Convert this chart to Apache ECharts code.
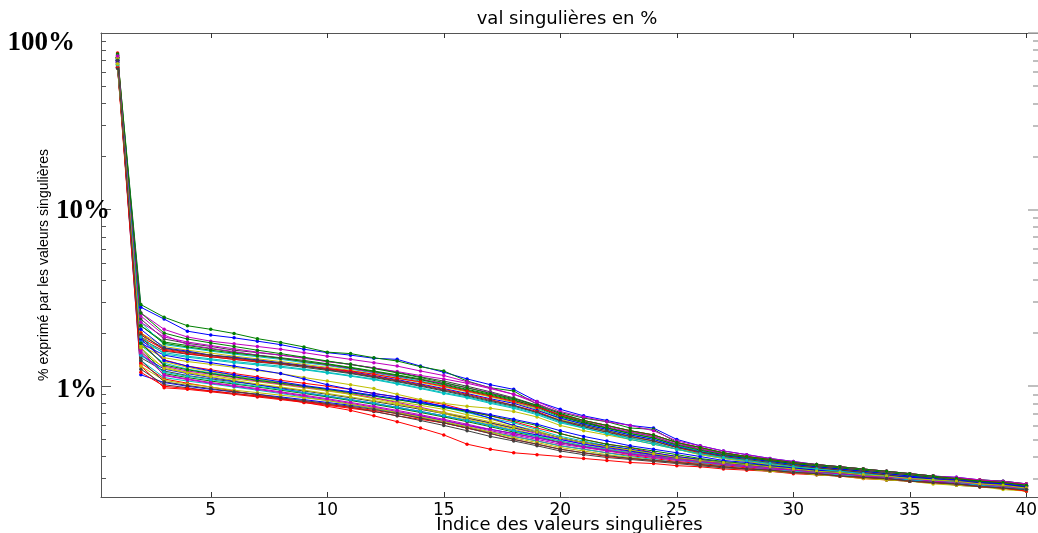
<!DOCTYPE html>
<html>
<head>
<meta charset="utf-8">
<script src="https://cdn.jsdelivr.net/npm/echarts@6/dist/echarts.min.js"></script>
<style>
html,body{margin:0;padding:0;background:#fff;}
#chart{width:1038px;height:533px;}
</style>
</head>
<body>
<div id="chart"></div>
<script>
// ---- data ----
const titleText = 'val singulières en %';
const xName = 'Indice des valeurs singulières';
const yName = '% exprimé par les valeurs singulières';
const indices = [1,2,3,4,5,6,7,8,9,10,11,12,13,14,15,16,17,18,19,20,21,22,23,24,25,26,27,28,29,30,31,32,33,34,35,36,37,38,39,40];
const xTickValues = [5,10,15,20,25,30,35,40];
const yMajorValues = [1,10,100];
const yMajorLabels = ['1%','10%','100%'];
const yMinorValues = [0.3,0.4,0.5,0.6,0.7,0.8,0.9,2,3,4,5,6,7,8,9,20,30,40,50,60,70,80,90];

// upper bundle
const u01 = [74,2.9,2.46,2.2,2.1,1.99,1.86,1.77,1.67,1.56,1.53,1.45,1.39,1.29,1.22,1.07,0.98,0.94,0.79,0.71,0.66,0.63,0.58,0.57,0.48,0.45,0.42,0.40,0.385,0.37,0.36,0.35,0.34,0.33,0.32,0.31,0.30,0.295,0.29,0.28];
const u02 = [70,2.8,2.4,2.05,1.95,1.88,1.8,1.72,1.62,1.55,1.5,1.44,1.42,1.3,1.2,1.1,1.02,0.96,0.82,0.74,0.68,0.64,0.6,0.58,0.5,0.46,0.43,0.41,0.39,0.375,0.36,0.35,0.34,0.33,0.32,0.31,0.305,0.295,0.29,0.28];
const u03 = [68,2.6,2.1,1.9,1.8,1.74,1.68,1.62,1.55,1.48,1.42,1.36,1.3,1.22,1.15,1.06,0.98,0.9,0.8,0.7,0.64,0.6,0.56,0.53,0.48,0.44,0.42,0.40,0.38,0.365,0.355,0.345,0.335,0.325,0.315,0.305,0.30,0.29,0.285,0.275];
const u04 = [72,2.4,1.85,1.75,1.68,1.6,1.55,1.5,1.45,1.38,1.33,1.27,1.2,1.13,1.07,1.0,0.93,0.86,0.78,0.68,0.62,0.58,0.55,0.52,0.47,0.44,0.415,0.395,0.38,0.365,0.35,0.34,0.33,0.32,0.31,0.305,0.295,0.29,0.28,0.27];
const u05 = [66,2.2,1.78,1.7,1.63,1.56,1.5,1.45,1.4,1.34,1.28,1.22,1.16,1.1,1.03,0.96,0.9,0.84,0.76,0.67,0.62,0.58,0.54,0.51,0.46,0.43,0.41,0.39,0.375,0.36,0.35,0.34,0.33,0.32,0.31,0.30,0.295,0.285,0.28,0.27];
const u06 = [75,2.3,1.72,1.65,1.58,1.52,1.47,1.42,1.36,1.31,1.25,1.19,1.13,1.07,1.01,0.94,0.88,0.82,0.75,0.66,0.61,0.57,0.53,0.5,0.46,0.43,0.405,0.39,0.37,0.36,0.345,0.335,0.325,0.315,0.31,0.30,0.29,0.285,0.28,0.27];
const u07 = [70,2.0,1.68,1.6,1.54,1.48,1.43,1.38,1.33,1.28,1.23,1.17,1.11,1.05,0.99,0.93,0.87,0.81,0.74,0.65,0.6,0.56,0.52,0.49,0.45,0.42,0.40,0.385,0.37,0.355,0.345,0.335,0.325,0.315,0.305,0.30,0.29,0.285,0.275,0.265];
const u08 = [64,2.1,1.65,1.58,1.5,1.46,1.41,1.36,1.31,1.26,1.21,1.15,1.09,1.03,0.97,0.91,0.85,0.8,0.73,0.66,0.61,0.57,0.53,0.5,0.455,0.425,0.405,0.39,0.375,0.36,0.35,0.34,0.33,0.32,0.31,0.30,0.295,0.29,0.28,0.27];
const u09 = [77,1.9,1.62,1.55,1.49,1.44,1.39,1.35,1.3,1.25,1.2,1.14,1.08,1.02,0.96,0.9,0.84,0.78,0.72,0.64,0.59,0.55,0.52,0.49,0.45,0.42,0.4,0.38,0.365,0.355,0.345,0.335,0.325,0.315,0.305,0.30,0.29,0.285,0.275,0.27];
const u10 = [69,2.5,1.95,1.72,1.64,1.57,1.5,1.44,1.38,1.32,1.26,1.2,1.14,1.09,1.04,0.98,0.92,0.85,0.77,0.69,0.63,0.59,0.55,0.52,0.47,0.44,0.415,0.4,0.385,0.37,0.355,0.345,0.335,0.325,0.315,0.31,0.30,0.29,0.285,0.275];
const u11 = [73,1.85,1.58,1.52,1.47,1.42,1.37,1.33,1.28,1.23,1.18,1.12,1.06,1.0,0.94,0.88,0.82,0.77,0.71,0.63,0.59,0.55,0.51,0.48,0.44,0.415,0.395,0.38,0.365,0.35,0.34,0.33,0.32,0.31,0.305,0.295,0.29,0.28,0.275,0.265];
const u12 = [67,2.2,1.75,1.67,1.6,1.54,1.49,1.44,1.38,1.33,1.27,1.21,1.15,1.09,1.02,0.95,0.89,0.83,0.77,0.68,0.63,0.58,0.54,0.51,0.465,0.435,0.41,0.395,0.38,0.365,0.355,0.345,0.335,0.325,0.315,0.305,0.30,0.29,0.285,0.275];
const u13 = [71,1.8,1.55,1.48,1.43,1.38,1.34,1.3,1.25,1.2,1.15,1.1,1.04,0.98,0.92,0.87,0.81,0.76,0.7,0.63,0.58,0.54,0.51,0.48,0.44,0.41,0.39,0.375,0.36,0.35,0.34,0.33,0.32,0.31,0.30,0.295,0.285,0.28,0.27,0.26];
const u14 = [65,1.7,1.45,1.38,1.33,1.28,1.23,1.18,1.12,1.07,1.02,0.97,0.9,0.84,0.8,0.77,0.75,0.72,0.67,0.6,0.56,0.53,0.5,0.47,0.44,0.41,0.39,0.375,0.36,0.35,0.34,0.33,0.32,0.31,0.30,0.295,0.285,0.28,0.27,0.26];
const u15 = [70,1.75,1.5,1.42,1.36,1.3,1.24,1.18,1.1,1.02,0.96,0.91,0.87,0.82,0.77,0.72,0.66,0.6,0.55,0.51,0.48,0.46,0.44,0.42,0.4,0.385,0.37,0.36,0.35,0.34,0.33,0.32,0.31,0.30,0.295,0.29,0.28,0.275,0.27,0.26];
const u16 = [74,2.0,1.6,1.53,1.47,1.42,1.38,1.34,1.3,1.26,1.22,1.17,1.11,1.06,1.0,0.94,0.88,0.82,0.76,0.69,0.64,0.6,0.56,0.53,0.48,0.45,0.42,0.4,0.385,0.37,0.36,0.35,0.34,0.33,0.32,0.31,0.30,0.295,0.285,0.28];
const u17 = [68,2.3,1.9,1.78,1.7,1.63,1.56,1.5,1.44,1.38,1.33,1.27,1.21,1.15,1.1,1.04,0.97,0.9,0.82,0.72,0.67,0.63,0.6,0.56,0.49,0.46,0.43,0.41,0.39,0.375,0.36,0.35,0.34,0.33,0.32,0.31,0.305,0.295,0.29,0.28];
const u18 = [63,1.95,1.64,1.56,1.5,1.45,1.4,1.35,1.3,1.24,1.19,1.13,1.07,1.01,0.95,0.89,0.83,0.78,0.71,0.64,0.6,0.56,0.52,0.49,0.45,0.425,0.4,0.385,0.37,0.355,0.345,0.335,0.325,0.315,0.305,0.3,0.29,0.285,0.275,0.265];
const u19 = [76,2.6,2.0,1.85,1.76,1.68,1.6,1.53,1.46,1.39,1.33,1.26,1.19,1.12,1.05,0.98,0.91,0.85,0.78,0.7,0.64,0.6,0.56,0.53,0.48,0.45,0.42,0.4,0.385,0.37,0.36,0.35,0.34,0.33,0.32,0.31,0.3,0.29,0.285,0.275];
const u20 = [66,1.9,1.52,1.46,1.41,1.36,1.32,1.28,1.24,1.19,1.14,1.09,1.03,0.97,0.91,0.86,0.8,0.75,0.69,0.62,0.58,0.54,0.5,0.47,0.44,0.415,0.395,0.38,0.365,0.35,0.34,0.33,0.32,0.31,0.3,0.295,0.285,0.28,0.27,0.26];

// lower bundle
const l01 = [72,1.9,1.41,1.3,1.24,1.18,1.13,1.08,1.04,1.0,0.96,0.91,0.87,0.83,0.79,0.73,0.68,0.63,0.58,0.54,0.5,0.47,0.45,0.42,0.4,0.385,0.37,0.36,0.35,0.34,0.335,0.325,0.315,0.31,0.305,0.295,0.29,0.285,0.28,0.27];
const l02 = [68,1.7,1.35,1.25,1.19,1.14,1.09,1.05,1.0,0.96,0.92,0.88,0.84,0.8,0.76,0.71,0.66,0.62,0.57,0.52,0.49,0.46,0.44,0.415,0.395,0.38,0.37,0.36,0.35,0.34,0.33,0.32,0.315,0.305,0.3,0.295,0.285,0.28,0.275,0.265];
const l03 = [65,1.55,1.28,1.2,1.15,1.1,1.06,1.02,0.98,0.94,0.9,0.86,0.82,0.78,0.74,0.69,0.65,0.6,0.56,0.51,0.48,0.455,0.435,0.41,0.39,0.375,0.365,0.355,0.345,0.335,0.325,0.32,0.31,0.305,0.3,0.29,0.285,0.28,0.27,0.265];
const l04 = [70,1.16,1.05,1.0,0.96,0.93,0.9,0.87,0.84,0.81,0.78,0.75,0.71,0.68,0.64,0.6,0.57,0.54,0.51,0.48,0.455,0.435,0.415,0.4,0.385,0.37,0.36,0.35,0.34,0.33,0.325,0.315,0.31,0.3,0.295,0.29,0.28,0.275,0.27,0.26];
const l05 = [74,1.3,0.98,0.96,0.93,0.9,0.87,0.84,0.81,0.78,0.75,0.72,0.68,0.65,0.62,0.58,0.55,0.52,0.49,0.46,0.44,0.42,0.405,0.39,0.375,0.365,0.355,0.345,0.335,0.325,0.32,0.31,0.305,0.3,0.29,0.285,0.28,0.27,0.265,0.255];
const l06 = [69,1.8,1.3,1.22,1.17,1.12,1.07,1.03,0.99,0.95,0.91,0.86,0.81,0.76,0.71,0.66,0.62,0.58,0.54,0.5,0.47,0.445,0.425,0.405,0.39,0.375,0.365,0.355,0.345,0.335,0.33,0.32,0.31,0.305,0.3,0.29,0.285,0.28,0.27,0.265];
const l07 = [66,1.45,1.22,1.15,1.1,1.06,1.02,0.98,0.94,0.9,0.86,0.82,0.78,0.74,0.7,0.66,0.62,0.58,0.55,0.51,0.48,0.455,0.43,0.41,0.395,0.38,0.37,0.36,0.35,0.34,0.33,0.32,0.315,0.305,0.3,0.295,0.285,0.28,0.275,0.265];
const l08 = [73,1.65,1.18,1.12,1.07,1.03,0.99,0.95,0.91,0.87,0.83,0.79,0.75,0.71,0.67,0.63,0.59,0.55,0.52,0.48,0.455,0.435,0.415,0.4,0.385,0.37,0.36,0.35,0.34,0.33,0.325,0.315,0.31,0.3,0.295,0.29,0.28,0.275,0.27,0.26];
const l09 = [71,1.4,1.12,1.07,1.03,0.99,0.95,0.91,0.87,0.83,0.79,0.75,0.71,0.67,0.63,0.59,0.55,0.52,0.49,0.46,0.44,0.42,0.4,0.385,0.37,0.36,0.35,0.34,0.335,0.325,0.32,0.31,0.305,0.3,0.29,0.285,0.28,0.275,0.265,0.26];
const l10 = [67,2.0,1.38,1.28,1.21,1.15,1.1,1.05,1.0,0.95,0.9,0.85,0.8,0.75,0.7,0.65,0.61,0.57,0.53,0.49,0.46,0.44,0.42,0.4,0.385,0.37,0.36,0.35,0.34,0.33,0.325,0.315,0.31,0.3,0.295,0.29,0.28,0.275,0.27,0.26];
const l11 = [75,1.5,1.25,1.18,1.12,1.07,1.02,0.97,0.92,0.88,0.84,0.8,0.76,0.72,0.68,0.64,0.6,0.56,0.53,0.5,0.47,0.45,0.43,0.41,0.395,0.38,0.37,0.36,0.35,0.34,0.33,0.325,0.315,0.31,0.305,0.295,0.29,0.285,0.275,0.27];
const l12 = [64,1.35,1.1,1.04,0.99,0.94,0.89,0.85,0.81,0.77,0.73,0.68,0.63,0.58,0.53,0.47,0.44,0.42,0.41,0.4,0.39,0.38,0.37,0.365,0.355,0.35,0.34,0.335,0.33,0.32,0.315,0.31,0.3,0.295,0.29,0.285,0.28,0.27,0.265,0.255];
const l13 = [70,1.6,1.15,1.09,1.04,1.0,0.96,0.92,0.88,0.84,0.8,0.76,0.72,0.68,0.64,0.6,0.56,0.53,0.5,0.47,0.45,0.43,0.41,0.395,0.38,0.37,0.36,0.35,0.34,0.33,0.325,0.315,0.31,0.3,0.295,0.29,0.28,0.275,0.27,0.26];
const l14 = [68,1.25,1.02,0.98,0.94,0.91,0.88,0.85,0.82,0.79,0.76,0.72,0.68,0.64,0.6,0.56,0.52,0.49,0.46,0.43,0.41,0.395,0.385,0.375,0.365,0.355,0.345,0.34,0.33,0.325,0.315,0.31,0.305,0.295,0.29,0.285,0.275,0.27,0.265,0.255];
const l15 = [73,1.75,1.32,1.24,1.18,1.13,1.08,1.04,1.0,0.96,0.92,0.88,0.84,0.8,0.76,0.72,0.68,0.64,0.6,0.54,0.5,0.47,0.45,0.43,0.41,0.39,0.375,0.365,0.355,0.345,0.335,0.325,0.32,0.31,0.305,0.295,0.29,0.285,0.275,0.27];
const l16 = [66,1.5,1.2,1.14,1.09,1.04,1.0,0.96,0.92,0.88,0.84,0.8,0.76,0.72,0.68,0.64,0.6,0.56,0.52,0.49,0.46,0.44,0.42,0.4,0.385,0.37,0.36,0.35,0.34,0.33,0.325,0.315,0.31,0.305,0.295,0.29,0.285,0.275,0.27,0.26];
const l17 = [72,1.3,1.08,1.03,0.99,0.95,0.92,0.89,0.86,0.83,0.79,0.75,0.71,0.67,0.63,0.59,0.55,0.51,0.48,0.45,0.43,0.41,0.395,0.38,0.37,0.36,0.35,0.34,0.33,0.325,0.315,0.31,0.3,0.295,0.29,0.28,0.275,0.27,0.26,0.255];
const l18 = [69,1.85,1.4,1.3,1.22,1.16,1.11,1.06,1.01,0.97,0.93,0.89,0.85,0.81,0.77,0.73,0.69,0.65,0.61,0.56,0.52,0.49,0.46,0.44,0.42,0.4,0.38,0.37,0.355,0.345,0.335,0.33,0.32,0.31,0.305,0.3,0.29,0.285,0.28,0.27];
const l19 = [65,1.2,1.0,0.97,0.94,0.91,0.88,0.85,0.82,0.79,0.76,0.73,0.7,0.66,0.62,0.58,0.54,0.5,0.47,0.44,0.42,0.4,0.39,0.38,0.37,0.36,0.35,0.34,0.335,0.325,0.32,0.31,0.305,0.3,0.29,0.285,0.28,0.27,0.265,0.255];
const l20 = [74,1.55,1.16,1.1,1.05,1.01,0.97,0.93,0.89,0.85,0.81,0.77,0.73,0.69,0.65,0.61,0.57,0.54,0.51,0.48,0.455,0.435,0.415,0.4,0.385,0.375,0.36,0.35,0.34,0.335,0.325,0.32,0.31,0.305,0.3,0.29,0.285,0.28,0.27,0.265];
const l21 = [67,1.65,1.26,1.19,1.13,1.08,1.03,0.99,0.95,0.91,0.87,0.83,0.79,0.75,0.71,0.67,0.63,0.59,0.55,0.51,0.48,0.455,0.435,0.415,0.395,0.38,0.37,0.36,0.35,0.34,0.33,0.325,0.315,0.31,0.3,0.295,0.29,0.28,0.275,0.265];
const l22 = [70,1.4,1.06,1.01,0.97,0.93,0.9,0.86,0.83,0.8,0.77,0.74,0.7,0.66,0.62,0.58,0.54,0.5,0.47,0.44,0.42,0.405,0.39,0.38,0.37,0.36,0.35,0.34,0.335,0.325,0.32,0.31,0.305,0.3,0.29,0.285,0.28,0.27,0.265,0.26];

const seriesOrder = [u02,u01,l01,l02,u03,l03,u04,l04,u05,l05,u06,l06,u07,l07,u08,l08,u09,l09,u10,l10,u11,l11,u12,l12,u13,l13,u14,l14,u15,l15,u16,l16,u17,l17,u18,l18,u19,l19,u20,l20,l21,l22];

// ---- chart ----
const palette = ['#0000ff','#008000','#ff0000','#00bfbf','#bf00bf','#bfbf00','#404040'];
const X_MIN = 0.29, X_MAX = 40.5, Y_MIN = 0.236, Y_MAX = 100;
const axisColor = '#555';
const sans = 'DejaVu Sans';
const serif = 'Liberation Serif';
const richKeys = ['one','ten','hund'];
const labFont = {fontFamily: serif, fontWeight: 'bold', fontSize: 27, color: '#000'};

const chart = echarts.init(document.getElementById('chart'), null, {renderer: 'canvas'});
const option = {
  animation: false,
  backgroundColor: '#fff',
  title: {
    text: titleText, left: 562, top: 5, textAlign: 'center',
    textStyle: {fontFamily: sans, fontSize: 18, fontWeight: 'normal', color: '#000'}
  },
  grid: {left: 101, top: 33, width: 937, height: 464, containLabel: false, outerBoundsMode: 'none'},
  xAxis: [
    {
      type: 'value', min: X_MIN, max: X_MAX, position: 'bottom',
      name: xName, nameLocation: 'middle', nameGap: 19, nameMoveOverlap: false,
      nameTextStyle: {fontFamily: sans, fontSize: 18, color: '#000'},
      axisLine: {show: true, lineStyle: {color: axisColor, width: 1}},
      axisTick: {show: true, inside: true, length: 5, customValues: xTickValues, lineStyle: {color: '#333'}},
      axisLabel: {customValues: xTickValues, margin: 5, fontFamily: sans, fontSize: 17, color: '#000'},
      splitLine: {show: false}
    },
    {
      type: 'value', min: X_MIN, max: X_MAX, position: 'top',
      axisLine: {show: true, lineStyle: {color: axisColor, width: 1}},
      axisTick: {show: true, inside: true, length: 5, customValues: xTickValues, lineStyle: {color: '#333'}},
      axisLabel: {show: false},
      splitLine: {show: false}
    }
  ],
  yAxis: [
    {
      type: 'log', logBase: 10, min: Y_MIN, max: Y_MAX, position: 'left', offset: 0,
      name: yName, nameLocation: 'middle', nameGap: 50, nameRotate: 90, nameMoveOverlap: false,
      nameTextStyle: {fontFamily: 'Liberation Sans Narrow, Liberation Sans, Arial', fontSize: 14, color: '#000'},
      axisLine: {show: true, lineStyle: {color: axisColor, width: 1}},
      axisTick: {show: true, inside: true, length: 10, customValues: yMajorValues, lineStyle: {color: '#555'}},
      axisLabel: {
        customValues: yMajorValues, margin: -12,
        formatter: function (v) {
          let best = 0;
          for (let i = 0; i < yMajorValues.length; i++) {
            if (Math.abs(Math.log10(yMajorValues[i]) - Math.log10(v)) < Math.abs(Math.log10(yMajorValues[best]) - Math.log10(v))) best = i;
          }
          return '{' + richKeys[best] + '|' + yMajorLabels[best] + '}';
        },
        rich: {
          one: Object.assign({padding: [7, 16, 0, 0]}, labFont),
          ten: Object.assign({padding: [2, 3, 0, 0]}, labFont),
          hund: Object.assign({padding: [20, 38, 0, 0]}, labFont)
        }
      },
      splitLine: {show: false}
    },
    {
      type: 'log', logBase: 10, min: Y_MIN, max: Y_MAX, position: 'left', offset: 0,
      axisLine: {show: false},
      axisTick: {show: true, inside: true, length: 5, customValues: yMinorValues, lineStyle: {color: '#555'}},
      axisLabel: {show: false},
      splitLine: {show: false}
    },
    {
      type: 'log', logBase: 10, min: Y_MIN, max: Y_MAX, position: 'right', offset: 0,
      axisLine: {show: true, lineStyle: {color: '#999'}},
      axisTick: {show: true, inside: true, length: 5, customValues: yMinorValues, lineStyle: {color: '#aaa', width: 1.5}},
      axisLabel: {show: false},
      splitLine: {show: false}
    },
    {
      type: 'log', logBase: 10, min: Y_MIN, max: Y_MAX, position: 'right', offset: 0,
      axisLine: {show: false},
      axisTick: {show: true, inside: true, length: 10, customValues: yMajorValues, lineStyle: {color: '#aaa', width: 1.5}},
      axisLabel: {show: false},
      splitLine: {show: false}
    }
  ],
  series: seriesOrder.map(function (arr, i) {
    const c = palette[i % palette.length];
    return {
      type: 'line', xAxisIndex: 0, yAxisIndex: 0,
      data: arr.map(function (v, k) { return [indices[k], v]; }),
      symbol: 'circle', symbolSize: 3.5, showSymbol: true,
      lineStyle: {width: 1, color: c},
      itemStyle: {color: c},
      silent: true, animation: false, clip: true
    };
  })
};
chart.setOption(option);
</script>
</body>
</html>
